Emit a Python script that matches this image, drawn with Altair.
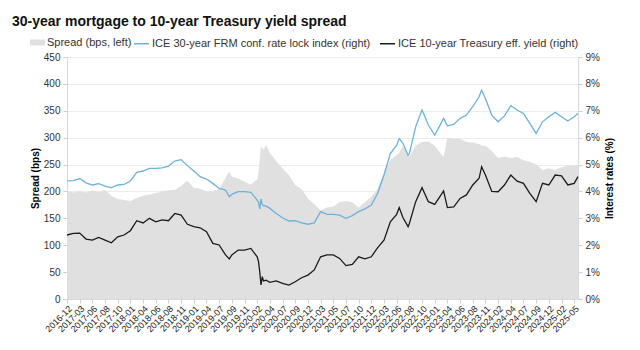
import altair as alt
import pandas as pd

TITLE = "30-year mortgage to 10-year Treasury yield spread"
SPREAD_NAME = "Spread (bps, left)"
FRM_NAME = "ICE 30-year FRM conf. rate lock index (right)"
UST_NAME = "ICE 10-year Treasury eff. yield (right)"

tick_labels = [
    "2016-12", "2017-03", "2017-06", "2017-08", "2017-10", "2018-01", "2018-04",
    "2018-06", "2018-08", "2018-11", "2019-01", "2019-04", "2019-07", "2019-09",
    "2019-11", "2020-02", "2020-04", "2020-07", "2020-09", "2020-12", "2021-03",
    "2021-05", "2021-07", "2021-10", "2021-12", "2022-03", "2022-06", "2022-08",
    "2022-10", "2023-01", "2023-04", "2023-06", "2023-08", "2023-11", "2024-02",
    "2024-04", "2024-07", "2024-09", "2024-12", "2025-02", "2025-05",
]

# observation position, in units of the axis label slots (0 = 2016-12)
pos = [
    0, 0.5, 1, 1.5, 2, 2.5, 3, 3.5, 4, 4.5, 5, 5.5, 6, 6.5, 7, 7.5, 8, 8.5, 9, 9.5,
    10, 10.5, 11, 11.5, 12, 12.5, 12.8, 13, 13.5, 14, 14.5, 15, 15.1, 15.2, 15.3, 15.4,
    15.5, 15.7, 16, 16.5, 17, 17.5, 18, 18.5, 19, 19.5, 20, 20.5, 21, 21.5, 22, 22.5,
    23, 23.5, 24, 24.5, 25, 25.5, 26, 26.2, 26.5, 26.9, 27, 27.5, 28, 28.5, 29, 29.5,
    29.7, 30, 30.5, 31, 31.5, 32, 32.5, 32.7, 33, 33.5, 34, 34.5, 35, 35.5, 36, 36.5,
    37, 37.5, 38, 38.5, 39, 39.5, 40, 40.3,
]

spread_bps = [
    200, 198, 201, 198, 202, 199, 203, 192, 186, 184, 182, 188, 192, 194, 197, 200, 202, 203, 210, 220,
    207, 205, 200, 201, 205, 225, 237, 228, 224, 218, 213, 222, 235, 260, 285, 280,
    278, 287, 272, 256, 243, 230, 212, 204, 187, 176, 165, 170, 172, 180, 182, 180,
    170, 180, 190, 205, 235, 258, 268, 272, 284, 270, 265, 285, 292, 293, 285, 270,
    265, 300, 298, 298, 292, 291, 288, 285, 285, 275, 262, 265, 262, 264, 258, 255,
    250, 240, 243, 240, 245, 248, 248, 250,
]

frm_rate = [
    4.39, 4.40, 4.48, 4.32, 4.24, 4.29, 4.20, 4.14, 4.24, 4.26, 4.39, 4.71, 4.76, 4.86, 4.86, 4.88, 4.94, 5.13, 5.18, 4.96,
    4.76, 4.55, 4.46, 4.30, 4.11, 4.05, 3.80, 3.89, 3.99, 3.99, 3.97, 3.68, 3.60, 3.35, 3.72, 3.50,
    3.47, 3.45, 3.37, 3.18, 3.02, 2.90, 2.91, 2.83, 2.78, 2.83, 3.25, 3.15, 3.15, 3.12, 3.00, 3.10,
    3.25, 3.35, 3.49, 3.93, 4.61, 5.41, 5.72, 5.97, 5.78, 5.35, 5.41, 6.41, 7.03, 6.47, 6.10, 6.53,
    6.72, 6.44, 6.49, 6.72, 6.84, 7.15, 7.52, 7.77, 7.46, 6.84, 6.59, 6.81, 7.19, 7.03, 6.90, 6.53,
    6.16, 6.59, 6.78, 6.94, 6.78, 6.62, 6.78, 6.90,
]

ust_rate = [
    2.38, 2.44, 2.45, 2.23, 2.19, 2.29, 2.19, 2.09, 2.31, 2.38, 2.54, 2.91, 2.83, 3.00, 2.87, 2.94, 2.91, 3.18, 3.12, 2.78,
    2.69, 2.65, 2.50, 2.07, 2.01, 1.64, 1.49, 1.64, 1.82, 1.82, 1.88, 1.57, 1.40, 1.02, 0.52, 0.83,
    0.67, 0.70, 0.62, 0.67, 0.58, 0.52, 0.64, 0.79, 0.89, 1.08, 1.57, 1.64, 1.64, 1.51, 1.24, 1.29,
    1.57, 1.49, 1.57, 1.91, 2.19, 2.87, 3.15, 3.40, 3.02, 2.69, 2.81, 3.62, 4.14, 3.62, 3.52, 3.87,
    4.02, 3.40, 3.43, 3.74, 3.87, 4.24, 4.49, 4.92, 4.61, 4.00, 3.99, 4.24, 4.61, 4.38, 4.30, 3.93,
    3.62, 4.30, 4.24, 4.61, 4.58, 4.24, 4.30, 4.55,
]

FONT = "Liberation Sans"

df_area = pd.DataFrame({"pos": pos, "spread": spread_bps, "name": SPREAD_NAME})
n = len(pos)
df_lines = pd.DataFrame({
    "pos": pos + pos,
    "rate": frm_rate + ust_rate,
    "series": [FRM_NAME] * n + [UST_NAME] * n,
})

label_expr = "[" + ",".join("'%s'" % s for s in tick_labels) + "][datum.value]"

x_enc = alt.X(
    "pos:Q",
    scale=alt.Scale(domain=[0, 40.3], nice=False, zero=False),
    axis=alt.Axis(
        values=list(range(len(tick_labels))), labelExpr=label_expr, title=None,
        labelAngle=-45, labelAlign="right", labelBaseline="top", labelOverlap=False,
        labelFlush=False, labelFontSize=9, labelColor="#222222", labelFont=FONT,
        labelPadding=1, grid=False, tickColor="#cfcfcf", tickSize=4,
        domainColor="#d9d9d9",
    ),
)

area = alt.Chart(df_area).mark_area(opacity=1, interpolate="linear").encode(
    x=x_enc,
    y=alt.Y(
        "spread:Q",
        scale=alt.Scale(domain=[0, 450], nice=False),
        axis=alt.Axis(
            values=list(range(0, 451, 50)), title="Spread (bps)", titleFont=FONT,
            titleFontSize=10, titleFontWeight="bold", titleColor="#000000",
            titlePadding=3, labelFont=FONT, labelFontSize=10, labelColor="#333333",
            labelPadding=3, tickColor="#cfcfcf", tickSize=4, domainColor="#d9d9d9",
            grid=True, gridColor="#ececec",
        ),
    ),
    fill=alt.Fill(
        "name:N",
        scale=alt.Scale(domain=[SPREAD_NAME], range=["#e0e0e0"]),
        legend=alt.Legend(
            title=None, orient="none", legendX=-37, legendY=-22, padding=0,
            symbolType="M-1,-0.4H1V0.4H-1Z", symbolSize=225, symbolStrokeWidth=0,
            labelFont=FONT, labelFontSize=11, labelColor="#333333", labelOffset=2,
            labelLimit=400,
        ),
    ),
)

lines = alt.Chart(df_lines).mark_line(strokeWidth=1.3).encode(
    x=x_enc,
    y=alt.Y(
        "rate:Q",
        scale=alt.Scale(domain=[0, 9], nice=False),
        axis=alt.Axis(
            orient="right", values=list(range(0, 10)), labelExpr="datum.value + '%'",
            title="Interest rates (%)", titleAngle=270, titleBaseline="top",
            titleFont=FONT, titleFontSize=10, titleFontWeight="bold",
            titleColor="#000000", titlePadding=5, labelFont=FONT, labelFontSize=10,
            labelColor="#333333", labelPadding=3, tickColor="#cfcfcf", tickSize=4,
            domainColor="#d9d9d9", grid=False,
        ),
    ),
    stroke=alt.Stroke(
        "series:N",
        scale=alt.Scale(domain=[FRM_NAME, UST_NAME], range=["#6cb2dc", "#1a1a1a"]),
        legend=alt.Legend(
            title=None, orient="none", direction="horizontal", legendX=66, legendY=-22,
            padding=0, symbolType="stroke", symbolSize=225, symbolStrokeWidth=1.5,
            labelFont=FONT, labelFontSize=11, labelColor="#333333", labelOffset=2,
            columnPadding=6, labelLimit=400,
        ),
    ),
)

chart = (
    alt.layer(area, lines)
    .resolve_scale(y="independent", fill="independent", stroke="independent")
    .properties(
        width=511, height=242,
        autosize=alt.AutoSizeParams(type="none"),
        padding={"left": 67, "top": 57, "right": 62, "bottom": 51},
        title=alt.TitleParams(
            TITLE, anchor="start", frame="group", font=FONT, fontSize=14,
            fontWeight="bold", color="#111111", dx=-55, dy=18, offset=24,
        ),
        background="white",
    )
    .configure_view(stroke=None)
)

chart.save("out.html", embed_options={"renderer": "svg", "actions": False})
